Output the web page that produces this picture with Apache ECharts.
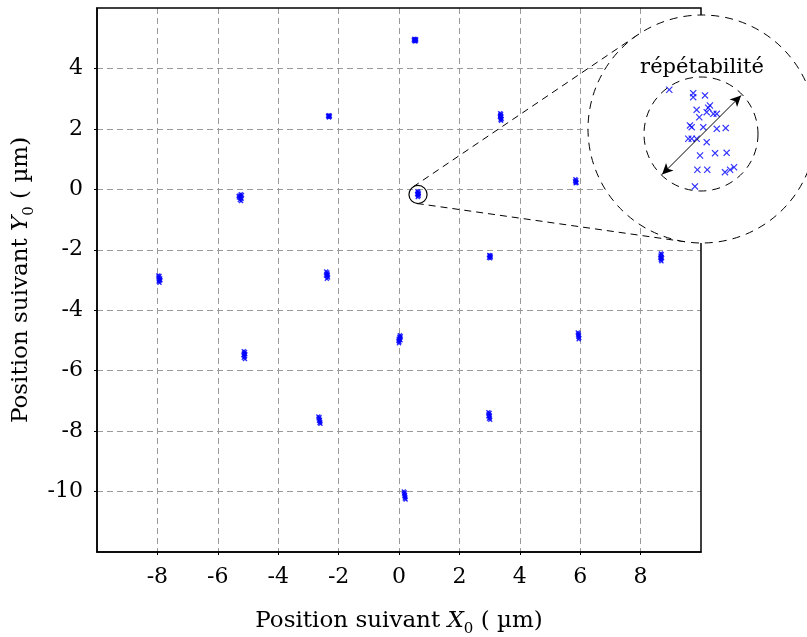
<!DOCTYPE html>
<html><head><meta charset="utf-8">
<script src="https://cdn.jsdelivr.net/npm/echarts/dist/echarts.min.js"></script>
<style>html,body{margin:0;padding:0;background:#fff}#c{width:807px;height:637px}</style>
</head><body><div id="c"></div>
<script>
// Axes
const xMin = -10, xMax = 10, yMin = -12, yMax = 6, tickStep = 2;
// Measured positions (µm), 16 clusters of repeated measurements
const mesures = [
  [0.51,4.98],[0.55,4.97],[0.53,4.93],[0.50,4.91],[0.56,4.92],[0.52,4.96],[0.54,4.89],[0.49,4.95],[0.57,4.96],
  [-2.34,2.44],[-2.31,2.45],[-2.33,2.41],[-2.30,2.40],[-2.32,2.38],[-2.35,2.42],[-2.29,2.43],
  [3.35,2.52],[3.38,2.49],[3.36,2.45],[3.39,2.42],[3.34,2.40],[3.37,2.36],[3.40,2.33],[3.36,2.30],[3.38,2.27],[3.35,2.44],
  [0.61,-0.06],[0.64,-0.08],[0.62,-0.12],[0.66,-0.14],[0.60,-0.16],[0.63,-0.19],[0.65,-0.22],[0.62,-0.25],[0.64,-0.17],
  [-5.24,-0.16],[-5.20,-0.19],[-5.28,-0.20],[-5.23,-0.24],[-5.30,-0.27],[-5.25,-0.29],[-5.21,-0.31],[-5.27,-0.35],[-5.23,-0.39],[-5.31,-0.22],
  [5.84,0.33],[5.87,0.30],[5.83,0.27],[5.86,0.24],[5.85,0.20],[5.88,0.22],
  [2.99,-2.17],[3.03,-2.19],[3.00,-2.22],[3.04,-2.24],[2.98,-2.26],[3.02,-2.28],[3.01,-2.20],
  [8.67,-2.12],[8.70,-2.15],[8.66,-2.19],[8.69,-2.23],[8.65,-2.26],[8.68,-2.30],[8.71,-2.27],[8.67,-2.34],[8.69,-2.38],
  [-2.41,-2.72],[-2.37,-2.75],[-2.40,-2.79],[-2.36,-2.82],[-2.42,-2.85],[-2.38,-2.88],[-2.35,-2.92],[-2.39,-2.96],[-2.37,-2.85],
  [-7.97,-2.85],[-7.93,-2.87],[-7.96,-2.91],[-7.91,-2.94],[-7.95,-2.98],[-7.92,-3.02],[-7.96,-3.05],[-7.93,-3.09],[-7.90,-3.00],
  [0.03,-4.83],[0.06,-4.86],[0.01,-4.88],[0.04,-4.91],[-0.01,-4.94],[0.02,-4.97],[-0.02,-5.01],[0.01,-5.05],[0.00,-5.09],[0.05,-4.99],
  [5.92,-4.74],[5.95,-4.77],[5.93,-4.81],[5.96,-4.84],[5.94,-4.88],[5.97,-4.92],[5.95,-4.96],
  [-5.14,-5.36],[-5.10,-5.38],[-5.13,-5.42],[-5.09,-5.46],[-5.15,-5.49],[-5.11,-5.53],[-5.14,-5.57],[-5.10,-5.61],[-5.12,-5.45],
  [-2.67,-7.52],[-2.63,-7.54],[-2.66,-7.58],[-2.62,-7.62],[-2.65,-7.66],[-2.61,-7.69],[-2.63,-7.73],[-2.60,-7.76],
  [2.96,-7.38],[3.00,-7.40],[2.97,-7.44],[3.01,-7.48],[2.96,-7.51],[3.00,-7.55],[2.98,-7.59],[3.02,-7.62],
  [0.16,-10.00],[0.19,-10.03],[0.17,-10.07],[0.20,-10.11],[0.18,-10.15],[0.21,-10.19],[0.19,-10.23],[0.22,-10.26]
];
// Zoomed cluster (offsets in nm around the circled cluster)
const zoomCenter = [0.63, -0.17];
const zoomRadius = 0.3;   // µm
const insetRange = 300;   // nm
const insetPoints = [
  [-167,233],[-41,215],[-41,194],[21,203],[-23,127],[38,138],[47,150],[30,115],[65,106],[83,106],
  [-9,88],[-58,45],[-49,36],[12,36],[83,27],[130,31],[-67,-25],[-49,-25],[-23,-25],[30,-43],
  [-5,-113],[74,-101],[135,-99],[-19,-188],[33,-188],[126,-201],[153,-188],[174,-175],[-32,-276]
];
const arrowFrom = [-205,-213], arrowTo = [211,203];
const insetLabel = 'répétabilité';

const FONT = 'DejaVu Serif';
const FS = 22, FSN = 23;
const cross = 'path://M0,1.2L1.2,0L5,3.8L8.8,0L10,1.2L6.2,5L10,8.8L8.8,10L5,6.2L1.2,10L0,8.8L3.8,5Z';
const crossBold = 'path://M0,2L2,0L5,3L8,0L10,2L7,5L10,8L8,10L5,7L2,10L0,8L3,5Z';
const chart = echarts.init(document.getElementById('c'), null, {renderer:'canvas'});
const splitStyle = {show:true, showMinLine:false, showMaxLine:false, lineStyle:{color:'#9a9a9a', type:[6,4], width:1}};
const nameRich = {
  t:{fontFamily:FONT, fontSize:FSN, color:'#000', verticalAlign:'bottom', padding:[0,0,4,0]},
  i:{fontFamily:FONT, fontSize:FSN, fontStyle:'italic', color:'#000', verticalAlign:'bottom', padding:[0,0,4,0]},
  s:{fontFamily:FONT, fontSize:15, color:'#000', verticalAlign:'bottom'}
};
chart.setOption({
  animation:false,
  backgroundColor:'#fff',
  grid:[
    {left:97, top:8, width:604, height:544, show:true, borderColor:'#000', borderWidth:1.5,
     backgroundColor:'transparent', containLabel:false, outerBoundsMode:'none', z:1},
    {left:644, top:77, width:114, height:114, show:false, containLabel:false, outerBoundsMode:'none'}
  ],
  xAxis:[
    {type:'value', gridIndex:0, min:xMin, max:xMax, interval:tickStep,
     axisLine:{show:true, onZero:false, lineStyle:{color:'#000', width:1.5}},
     axisTick:{show:true, length:3, lineStyle:{color:'#000'}},
     axisLabel:{fontFamily:FONT, fontSize:FS, color:'#000', margin:14, showMinLabel:false, showMaxLabel:false},
     splitLine:splitStyle,
     name:'{t|Position suivant }{i|X}{s|0}{t| ( µm)}', nameLocation:'middle', nameGap:58,
     nameTextStyle:{rich:nameRich}},
    {type:'value', gridIndex:1, min:-insetRange, max:insetRange, show:false}
  ],
  yAxis:[
    {type:'value', gridIndex:0, min:yMin, max:yMax, interval:tickStep,
     axisLine:{show:true, onZero:false, lineStyle:{color:'#000', width:1.5}},
     axisTick:{show:true, length:3, lineStyle:{color:'#000'}},
     axisLabel:{fontFamily:FONT, fontSize:FS, color:'#000', margin:14, showMinLabel:false, showMaxLabel:false},
     splitLine:splitStyle,
     name:'{t|Position suivant }{i|Y}{s|0}{t| ( µm)}', nameLocation:'middle', nameGap:47, nameRotate:90,
     nameTextStyle:{rich:nameRich}},
    {type:'value', gridIndex:1, min:-insetRange, max:insetRange, show:false}
  ],
  series:[
    {type:'scatter', xAxisIndex:0, yAxisIndex:0, data:mesures, symbol:crossBold, symbolSize:5,
     itemStyle:{color:'#0000ff'}, z:3},
    {type:'scatter', xAxisIndex:1, yAxisIndex:1, data:insetPoints, symbol:cross, symbolSize:7,
     itemStyle:{color:'#0000ff'}, z:20, silent:true,
     markLine:{silent:true, z:21, symbol:['arrow','arrow'], symbolSize:[8,11], label:{show:false},
       lineStyle:{color:'#000', width:1, type:'solid'}, emphasis:{disabled:true},
       data:[[{coord:arrowFrom},{coord:arrowTo}]]}}
  ]
});

// Decorations: zoom circles and tangent lines
const c1 = chart.convertToPixel({gridIndex:0}, zoomCenter);
const edge = chart.convertToPixel({gridIndex:0}, [zoomCenter[0]+zoomRadius, zoomCenter[1]]);
const r1 = edge[0]-c1[0];
const c2 = [702, 129], r2 = 114;
const ci = chart.convertToPixel({gridIndex:1}, [0,0]);
const ri = chart.convertToPixel({gridIndex:1}, [insetRange,0])[0]-ci[0];
const D = [c2[0]-c1[0], c2[1]-c1[1]];
const d = Math.hypot(D[0], D[1]);
const phi = Math.atan2(D[1], D[0]);
const a = Math.acos(-(r2-r1)/d);
const lines = [1,-1].map(sg => {
  const th = phi + sg*a;
  const n = [Math.cos(th), Math.sin(th)];
  return {type:'line', z:5, silent:true,
    shape:{x1:c1[0]+r1*n[0], y1:c1[1]+r1*n[1], x2:c2[0]+r2*n[0], y2:c2[1]+r2*n[1]},
    style:{stroke:'#000', lineWidth:1, lineDash:[7,5]}};
});
chart.setOption({graphic:[
  ...lines,
  {type:'circle', z:6, silent:true, shape:{cx:c2[0], cy:c2[1], r:r2},
   style:{fill:'#fff', stroke:'#000', lineWidth:1, lineDash:[8,6]}},
  {type:'circle', z:7, silent:true, shape:{cx:ci[0], cy:ci[1], r:ri},
   style:{fill:'none', stroke:'#000', lineWidth:1, lineDash:[8,6]}},
  {type:'circle', z:7, silent:true, shape:{cx:c1[0], cy:c1[1], r:r1},
   style:{fill:'none', stroke:'#000', lineWidth:1.2}},
  {type:'text', z:8, silent:true, x:c2[0], y:68,
   style:{text:insetLabel, fontFamily:FONT, fontSize:21, fill:'#000', align:'center', verticalAlign:'middle'}}
]});
</script>
</body></html>
